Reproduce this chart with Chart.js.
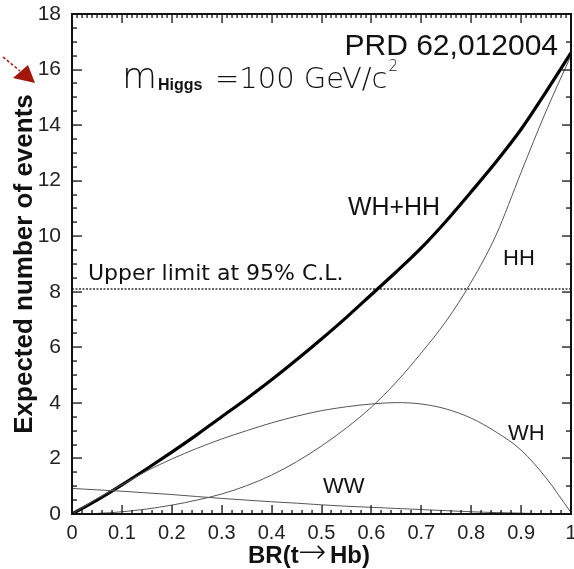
<!DOCTYPE html>
<html>
<head>
<meta charset="utf-8">
<script src="https://cdn.jsdelivr.net/npm/chart.js@4.4.0/dist/chart.umd.min.js"></script>
<style>
  html, body { margin: 0; padding: 0; background: #fff; }
  #wrap { position: relative; width: 574px; height: 569px; }
  #frame { position: absolute; border: 2px solid #111; box-sizing: border-box; pointer-events: none; }
</style>
</head>
<body>
<div id="wrap">
  <canvas id="myChart" width="574" height="569"></canvas>
  <div id="frame"></div>
</div>
<script>
// BR(t->Hb) sample points
const brValues = [0, 0.05, 0.1, 0.15, 0.2, 0.25, 0.3, 0.35, 0.4, 0.45, 0.5,
                  0.55, 0.6, 0.65, 0.7, 0.75, 0.8, 0.85, 0.9, 0.95, 1];
// expected number of events
const wwEvents = [0.92, 0.87, 0.82, 0.76, 0.7, 0.63, 0.56, 0.5, 0.44, 0.39, 0.33,
                  0.28, 0.24, 0.2, 0.16, 0.12, 0.08, 0.05, 0.03, 0.01, 0];
const whEvents = [0, 0.55, 1.05, 1.55, 1.98, 2.36, 2.7, 3.0, 3.28, 3.52, 3.72,
                  3.86, 3.96, 4.01, 3.96, 3.78, 3.45, 2.95, 2.3, 1.3, 0.05];
const hhEvents = [0, 0.02, 0.08, 0.18, 0.32, 0.5, 0.72, 1.02, 1.4, 1.88, 2.45,
                  3.1, 3.85, 4.75, 5.8, 6.95, 8.35, 10.05, 12.3, 14.5, 16.5];
const sumEvents = [0, 0.5, 1.05, 1.63, 2.23, 2.85, 3.5, 4.15, 4.83, 5.55, 6.3,
                   7.08, 7.9, 8.72, 9.58, 10.55, 11.6, 12.68, 13.85, 15.2, 16.6];
const upperLimit = 8.1;
const xRange = [0, 1];
const yRange = [0, 18];

function toPoints(values) {
  return brValues.map((b, i) => ({ x: b, y: values[i] }));
}

// texts, inward ticks and the small red arrow
const decorations = {
  id: "decorations",
  afterDraw(chart) {
    const ctx = chart.ctx;
    const xs = chart.scales.x;
    const ys = chart.scales.y;
    const left = xs.getPixelForValue(xRange[0]);
    const right = xs.getPixelForValue(xRange[1]);
    const bottom = ys.getPixelForValue(yRange[0]);
    const top = ys.getPixelForValue(yRange[1]);

    // place the frame box on the plot area
    const frame = document.getElementById("frame");
    frame.style.left = (left - 1) + "px";
    frame.style.top = (top - 1) + "px";
    frame.style.width = (right - left + 2) + "px";
    frame.style.height = (bottom - top + 2) + "px";

    ctx.save();
    ctx.fillStyle = "#111";
    ctx.textBaseline = "alphabetic";
    ctx.font = "30px 'Liberation Sans', Arial, sans-serif";
    ctx.textAlign = "right";
    ctx.fillText("PRD 62,012004", 558, 55);
    ctx.textAlign = "left";
    ctx.font = "300 36px 'DejaVu Sans', sans-serif";
    ctx.fillText("m", 122, 88);
    ctx.font = "bold 16px 'Liberation Sans', Arial, sans-serif";
    ctx.fillText("Higgs", 158, 90);
    ctx.font = "300 29px 'DejaVu Sans', sans-serif";
    const massText = "=100 GeV/c";
    ctx.fillText(massText, 215, 88);
    const massEnd = 215 + ctx.measureText(massText).width;
    ctx.font = "300 15px 'DejaVu Sans', sans-serif";
    ctx.fillText("2", massEnd + 1, 71);

    ctx.font = "22px 'DejaVu Sans', sans-serif";
    ctx.fillText("Upper limit at 95% C.L.", 88, 280, 259);

    ctx.font = "25px 'Liberation Sans', Arial, sans-serif";
    ctx.fillText("WH+HH", 348, 215, 92);
    ctx.font = "22px 'Liberation Sans', Arial, sans-serif";
    ctx.fillText("HH", 503, 265);
    ctx.fillText("WH", 508, 440);
    ctx.fillText("WW", 323, 493);

    // x axis title
    ctx.font = "bold 24px 'Liberation Sans', Arial, sans-serif";
    ctx.fillText("BR(t", 248, 563);
    ctx.font = "300 34px 'DejaVu Sans', sans-serif";
    ctx.fillText("\u2192", 298, 563, 31);
    ctx.font = "bold 24px 'Liberation Sans', Arial, sans-serif";
    ctx.fillText("Hb)", 330, 563);

    // inward ticks, after the texts
    ctx.fillStyle = "#111";
    for (let i = 0; i <= 36; i++) {
      const y = Math.round(ys.getPixelForValue(i / 2));
      ctx.fillRect(left, y - 0.6, i % 4 === 0 ? 10 : 5, 1.3);
    }
    for (let i = 0; i <= 18; i++) {
      const y = Math.round(ys.getPixelForValue(i));
      const len = i % 2 === 0 ? 9 : 5;
      ctx.fillRect(right - len, y - 0.6, len, 1.3);
    }
    for (let i = 0; i <= 50; i++) {
      const x = Math.round(xs.getPixelForValue(i / 50));
      const len = i % 5 === 0 ? 9 : 4;
      ctx.fillRect(x - 0.6, bottom - len, 1.3, len);
    }
    for (let i = 0; i <= 100; i++) {
      const x = Math.round(xs.getPixelForValue(i / 100));
      ctx.fillRect(x - 0.6, top, 1.3, i % 10 === 0 ? 9 : 4);
    }

    // small red arrow at the top left
    ctx.strokeStyle = "#a2170a";
    ctx.fillStyle = "#a2170a";
    ctx.lineWidth = 1.5;
    ctx.setLineDash([3, 2]);
    ctx.beginPath();
    ctx.moveTo(3, 57); ctx.lineTo(20, 71);
    ctx.stroke();
    ctx.setLineDash([]);
    ctx.beginPath();
    ctx.moveTo(13, 78); ctx.lineTo(28, 65); ctx.lineTo(35, 83);
    ctx.closePath();
    ctx.fill();
    ctx.restore();
  },
};

const thin = { borderColor: "#555", borderWidth: 1, pointRadius: 0,
               cubicInterpolationMode: "monotone", fill: false };

const data = {
  datasets: [
    { label: "WW", data: toPoints(wwEvents), ...thin },
    { label: "WH", data: toPoints(whEvents), ...thin },
    { label: "HH", data: toPoints(hhEvents), ...thin },
    { label: "WH+HH", data: toPoints(sumEvents), ...thin, borderColor: "#000", borderWidth: 3.2 },
    {
      label: "Upper limit",
      data: [{ x: xRange[0], y: upperLimit }, { x: xRange[1], y: upperLimit }],
      borderColor: "#333", borderWidth: 1.5, borderDash: [2, 1.5], pointRadius: 0,
    },
  ],
};

const config = {
  type: "line",
  data: data,
  options: {
    responsive: false,
    animation: false,
    layout: { padding: { top: 14, right: 3, left: 0, bottom: 0 } },
    plugins: { legend: { display: false }, tooltip: { enabled: false } },
    scales: {
      x: {
        type: "linear",
        min: xRange[0],
        max: xRange[1],
        grid: { display: false, drawTicks: false },
        border: { display: true, width: 2, color: "#111" },
        ticks: {
          stepSize: 0.1,
          padding: 7,
          color: "#222",
          font: { family: "'Liberation Sans', Arial, sans-serif", size: 20 },
          callback: (v) => String(+v.toFixed(1)),
        },
        afterFit: (scale) => { scale.height = 55; scale.paddingLeft = 0; scale.paddingRight = 0; },
      },
      y: {
        min: yRange[0],
        max: yRange[1],
        grid: { display: false, drawTicks: false },
        border: { display: true, width: 2, color: "#111" },
        ticks: {
          stepSize: 2,
          padding: 11,
          color: "#222",
          font: { family: "'Liberation Sans', Arial, sans-serif", size: 21 },
        },
        title: {
          display: true,
          text: "Expected number of events",
          color: "#111",
          padding: { top: 9, bottom: 0 },
          font: { family: "'Liberation Sans', Arial, sans-serif", size: 26, weight: "bold" },
        },
        afterFit: (scale) => { scale.width = 72; scale.paddingTop = 0; scale.paddingBottom = 0; },
      },
    },
  },
  plugins: [decorations],
};

const myChart = new Chart(document.getElementById("myChart"), config);
</script>
</body>
</html>
